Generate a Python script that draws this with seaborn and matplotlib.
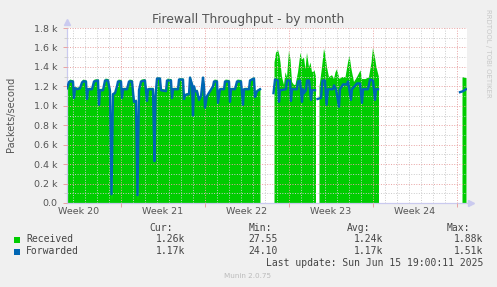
import numpy as np
import pandas as pd
import matplotlib
matplotlib.use("Agg")
import matplotlib.pyplot as plt
import matplotlib.transforms as mtransforms
from matplotlib.patches import Rectangle
import seaborn as sns

# ---------------- data (time in hours since graph start, values in packets/s)
fwd_a_hours = [0, 4, 6, 12, 14, 16, 20, 26, 30, 32, 38, 40, 42, 50, 54, 62, 64, 66, 72, 76, 82, 86, 89, 92,
               96, 100, 102, 108, 110, 112, 120, 124, 130, 134, 138, 141, 144, 148, 156, 160, 162, 172, 175,
               177, 180, 186, 188, 198, 200, 208, 210, 212, 222, 224, 232, 234, 236, 244, 246, 250, 252, 254,
               256, 260, 264, 268, 272, 274, 276, 280, 286, 292, 294, 300, 302, 306, 314, 316, 324, 326, 328,
               336, 340, 348, 352, 354, 364, 366, 374, 376, 380, 386]
fwd_a_vals = [1180, 1245, 1250, 1250, 1080, 1180, 1170, 1180, 1240, 1250, 1250, 1070, 1170, 1170, 1250, 1260,
              1010, 1160, 1160, 1260, 1260, 1150, 90, 1120, 1130, 1200, 1250, 1250, 1080, 1170, 1170, 1250,
              1250, 1040, 1050, 80, 1160, 1250, 1260, 1050, 1170, 1170, 430, 1100, 1280, 1280, 1160, 1150,
              1260, 1260, 1080, 1170, 1170, 1270, 1270, 1070, 1110, 1120, 1290, 1220, 900, 1200, 1150, 1150,
              1060, 1100, 1290, 1200, 980, 1100, 1150, 1200, 1250, 1250, 1030, 1170, 1170, 1250, 1250, 1040,
              1170, 1170, 1250, 1250, 1010, 1170, 1170, 1260, 1280, 1090, 1150, 1170]

recv_a_hours = fwd_a_hours
recv_a_vals = [1200, 1270, 1275, 1265, 1100, 1200, 1190, 1200, 1265, 1275, 1265, 1090, 1190, 1190, 1275, 1280,
               1030, 1180, 1180, 1285, 1280, 1170, 30, 1140, 1150, 1220, 1275, 1270, 1100, 1190, 1190, 1275,
               1270, 1060, 1070, 30, 1180, 1275, 1280, 1070, 1190, 1190, 450, 1120, 1300, 1295, 1180, 1170,
               1285, 1280, 1100, 1190, 1190, 1290, 1285, 1090, 1130, 1140, 1310, 1240, 920, 1220, 1170, 1170,
               1080, 1120, 1310, 1220, 1000, 1120, 1170, 1220, 1275, 1270, 1050, 1190, 1190, 1275, 1270, 1060,
               1190, 1190, 1275, 1270, 1030, 1190, 1190, 1280, 1300, 1110, 1170, 1190]

fwd_b_hours = [413, 416, 422, 424, 426, 438, 440, 446, 448, 450, 460, 462, 466, 470, 472, 474, 478, 480, 484,
               488, 490, 496]
fwd_b_vals = [1130, 1270, 1260, 1040, 1160, 1170, 1260, 1260, 1050, 1170, 1170, 1250, 1260, 1040, 1170, 1130,
              1160, 1260, 1260, 1060, 1160, 1160]

recv_b_hours = [414, 417, 421, 424, 426, 429, 433, 436, 439, 443, 446, 449, 453, 456, 461, 466, 469, 473, 476,
                479, 483, 486, 489, 494, 497]
recv_b_vals = [1450, 1550, 1580, 1520, 1450, 1300, 1220, 1350, 1300, 1570, 1480, 1250, 1220, 1220, 1350, 1550,
               1480, 1500, 1380, 1550, 1400, 1450, 1350, 1370, 1300]

fwd_c_hours = [501, 508, 511, 516, 519, 522, 532, 534, 538, 544, 546, 552, 560, 562, 568, 570, 580, 586, 590,
               592, 602, 606, 612, 616, 618, 622]
fwd_c_vals = [1070, 1080, 1260, 1260, 1010, 1170, 1170, 1210, 1170, 990, 1170, 1220, 1220, 1250, 1060, 1170,
              1230, 1230, 1030, 1170, 1170, 1270, 1260, 1060, 1170, 1170]

recv_c_hours = [504, 509, 513, 516, 519, 523, 529, 533, 536, 539, 544, 549, 556, 561, 564, 568, 573, 579, 586,
                589, 596, 603, 608, 611, 615, 618, 623]
recv_c_vals = [1200, 1400, 1590, 1520, 1400, 1300, 1320, 1280, 1350, 1380, 1280, 1300, 1300, 1450, 1520, 1380,
               1250, 1300, 1370, 1280, 1280, 1300, 1450, 1600, 1500, 1400, 1300]

fwd_d_hours = [786, 792, 798]
fwd_d_vals = [1140, 1150, 1170]
recv_d_hours = [790, 798]
recv_d_vals = [1300, 1290]

week_labels = ["Week 20", "Week 21", "Week 22", "Week 23", "Week 24"]
week_start_hours = [107, 275, 443, 611, 779]
y_tick_vals = [0, 200, 400, 600, 800, 1000, 1200, 1400, 1600, 1800]

legend_names = ["Received", "Forwarded"]
legend_cur = ["1.26k", "1.17k"]
legend_min = ["27.55", "24.10"]
legend_avg = ["1.24k", "1.17k"]
legend_max = ["1.88k", "1.51k"]

GREEN = "#00CC00"
BLUE = "#0066B3"

# ---------------- figure
W, H = 497, 287
fig = plt.figure(figsize=(W / 100, H / 100), dpi=100, facecolor="#F0F0F0")
ax = fig.add_axes([67 / W, 84 / H, 400 / W, 175 / H])
ax.set_facecolor("white")

recv_segments = [(recv_a_hours, recv_a_vals), (recv_b_hours, recv_b_vals),
                 (recv_c_hours, recv_c_vals), (recv_d_hours, recv_d_vals)]
for hrs, vals in recv_segments:
    ax.fill_between(hrs, vals, 0, color=GREEN, linewidth=0, zorder=1)

fwd_frames = []
for i, (hrs, vals) in enumerate([(fwd_a_hours, fwd_a_vals), (fwd_b_hours, fwd_b_vals),
                                  (fwd_c_hours, fwd_c_vals), (fwd_d_hours, fwd_d_vals)]):
    fwd_frames.append(pd.DataFrame({"hour": hrs, "value": vals, "seg": i}))
fwd_df = pd.concat(fwd_frames, ignore_index=True)
sns.lineplot(data=fwd_df, x="hour", y="value", units="seg", estimator=None, color=BLUE,
             linewidth=1.7, ax=ax, legend=False, zorder=3)

ax.set_xlim(0, 800)
ax.set_ylim(0, 1800)
ax.set_xlabel("")
ax.set_ylabel("")

# grid
ax.set_xticks(week_start_hours)
ax.set_xticks(np.arange(11, 800, 24), minor=True)
ax.set_yticks(y_tick_vals)
ax.set_yticks(np.arange(100, 1800, 200), minor=True)
ax.set_xticklabels([])
ax.set_yticklabels(["0.0" if v == 0 else f"{v / 1000:.1f} k" for v in y_tick_vals],
                   fontsize=6.8, color="#555555")
ax.set_axisbelow(False)
ax.grid(which="major", color="#E8A2A2", linestyle=(0, (1, 1.6)), linewidth=0.7)
ax.grid(which="minor", color="#CBCBCB", linestyle=(0, (1, 1.6)), linewidth=0.7)
ax.tick_params(axis="both", which="major", color="#E8A2A2", length=3, width=0.7)
ax.tick_params(axis="y", which="major", pad=4)
ax.tick_params(axis="x", which="minor", length=0)
ax.tick_params(axis="y", which="minor", color="#CBCBCB", length=2, width=0.6)

for s in ["top", "right"]:
    ax.spines[s].set_visible(False)
for s in ["left", "bottom"]:
    ax.spines[s].set_color("#CACAEF")
    ax.spines[s].set_linewidth(0.9)
ax.plot([0], [1.035], marker="^", markersize=4.5, color="#CACAEF", transform=ax.transAxes, clip_on=False)
ax.plot([1.01], [0], marker=">", markersize=4.5, color="#CACAEF", transform=ax.transAxes, clip_on=False)

trans = mtransforms.blended_transform_factory(ax.transData, ax.transAxes)
for h0, lab in zip(week_start_hours, week_labels):
    ax.text(h0 - 84, -0.05, lab, transform=trans, ha="center", va="center",
            fontsize=6.8, color="#555555")

# titles
fig.text(248 / W, 1 - 19 / H, "Firewall Throughput - by month", ha="center", va="center",
         fontsize=8.8, color="#555555")
fig.text(11 / W, 1 - 114 / H, "Packets/second", rotation=90, ha="center", va="center",
         fontsize=7, color="#555555")
fig.text(488 / W, 1 - 53 / H, "RRDTOOL / TOBI OETIKER", rotation=270, ha="center", va="center",
         fontsize=5, color="#C8C8C8")

# legend
mono = "DejaVu Sans Mono"
lc = "#444444"
fig.text(161 / W, 1 - 228 / H, "Cur:", ha="center", va="center", family=mono, fontsize=7, color=lc)
fig.text(260 / W, 1 - 228 / H, "Min:", ha="center", va="center", family=mono, fontsize=7, color=lc)
fig.text(359 / W, 1 - 228 / H, "Avg:", ha="center", va="center", family=mono, fontsize=7, color=lc)
fig.text(458 / W, 1 - 228 / H, "Max:", ha="center", va="center", family=mono, fontsize=7, color=lc)
for i, (name, col) in enumerate(zip(legend_names, [GREEN, BLUE])):
    y = 239.5 + 12 * i
    fig.patches.append(Rectangle((14 / W, 1 - (y + 3) / H), 6 / W, 6 / H, transform=fig.transFigure,
                                 facecolor=col, edgecolor="none"))
    fig.text(26 / W, 1 - y / H, name, ha="left", va="center", family=mono, fontsize=7, color=lc)
    fig.text(185 / W, 1 - y / H, legend_cur[i], ha="right", va="center", family=mono, fontsize=7, color=lc)
    fig.text(278 / W, 1 - y / H, legend_min[i], ha="right", va="center", family=mono, fontsize=7, color=lc)
    fig.text(383 / W, 1 - y / H, legend_avg[i], ha="right", va="center", family=mono, fontsize=7, color=lc)
    fig.text(483 / W, 1 - y / H, legend_max[i], ha="right", va="center", family=mono, fontsize=7, color=lc)
fig.text(483 / W, 1 - 263.5 / H, "Last update: Sun Jun 15 19:00:11 2025", ha="right", va="center",
         family=mono, fontsize=7, color=lc)
fig.text(248 / W, 1 - 276 / H, "Munin 2.0.75", ha="center", va="center", fontsize=5.2, color="#BBBBBB")

fig.savefig("out.png", dpi=100, facecolor=fig.get_facecolor())
